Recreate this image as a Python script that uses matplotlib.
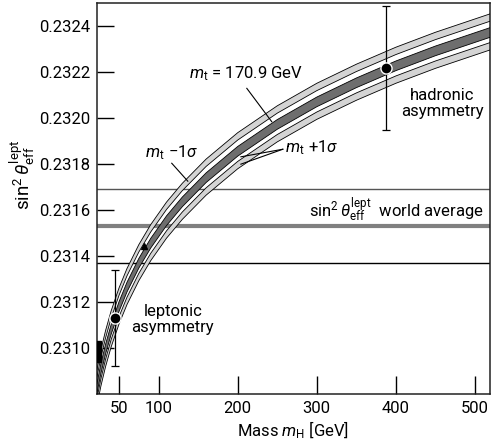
import matplotlib
matplotlib.use("Agg")
import matplotlib.pyplot as plt

plt.rcParams['font.family'] = ['Roboto', 'DejaVu Sans']
plt.rcParams['font.size'] = 12
plt.rcParams['mathtext.fontset'] = 'custom'
plt.rcParams['mathtext.rm'] = 'Roboto'
plt.rcParams['mathtext.it'] = 'Roboto:italic'
plt.rcParams['mathtext.bf'] = 'Roboto:bold'

# Higgs mass points (GeV)
mass = [22, 27, 33, 40, 50, 60, 75, 90, 110, 130, 160, 200, 250, 300, 350, 400, 450, 519]
# sin^2 theta_eff^lept for m_t = 170.9 GeV
sin2_central = [0.230824, 0.230910, 0.230996, 0.231081, 0.231181, 0.231265, 0.231369,
                0.231456, 0.231554, 0.231636, 0.231741, 0.231856, 0.231973, 0.232071,
                0.232154, 0.232228, 0.232293, 0.232373]
# m_t - 1 sigma (upper band)
sin2_minus = [0.230889, 0.230975, 0.231061, 0.231146, 0.231246, 0.231330, 0.231434,
              0.231521, 0.231619, 0.231701, 0.231806, 0.231921, 0.232038, 0.232136,
              0.232219, 0.232293, 0.232358, 0.232438]
# m_t + 1 sigma (lower band)
sin2_plus = [0.230764, 0.230850, 0.230936, 0.231021, 0.231121, 0.231205, 0.231309,
             0.231396, 0.231494, 0.231576, 0.231681, 0.231796, 0.231913, 0.232011,
             0.232094, 0.232168, 0.232233, 0.232313]

# world average
world_avg = 0.23153
world_err = 0.00016

# measurements
lep_mass, lep_val, lep_err = 45, 0.23113, 0.00021
had_mass, had_val, had_err = 388, 0.23222, 0.00027

# small marks on the left
arrow_mass, arrow_val = [81], [0.231445]
block_mass = [22, 27]
block_lo, block_hi = 0.23094, 0.23103

x_ticks = [50, 100, 200, 300, 400, 500]
y_ticks = [0.2310, 0.2312, 0.2314, 0.2316, 0.2318, 0.2320, 0.2322, 0.2324]

fig = plt.figure(figsize=(4.92, 4.47), dpi=100)
ax = fig.add_axes([0.197, 0.1186, 0.799, 0.874])

# world average band
ax.axhline(world_avg + world_err, color='#555555', lw=1.0, zorder=1)
ax.axhline(world_avg - world_err, color='black', lw=1.0, zorder=1)
ax.axhline(world_avg, color='#808080', lw=3.0, zorder=1)

# theory bands
for vals, col, h in [(sin2_minus, '#d4d4d4', 0.000016), (sin2_plus, '#d4d4d4', 0.000016),
                     (sin2_central, '#6e6e6e', 0.000021)]:
    lo = [v - h for v in vals]
    hi = [v + h for v in vals]
    ax.fill_between(mass, lo, hi, facecolor=col, edgecolor='none', zorder=2)
    ax.plot(mass, lo, color='black', lw=0.6, zorder=3)
    ax.plot(mass, hi, color='black', lw=0.6, zorder=3)

ax.plot(arrow_mass, arrow_val, marker='^', color='black', ms=4, ls='none', zorder=4)
ax.fill_between(block_mass, block_lo, block_hi, color='black', zorder=4)

# measurements
for m, v, e in [(lep_mass, lep_val, lep_err), (had_mass, had_val, had_err)]:
    ax.errorbar(m, v, yerr=e, fmt='none', ecolor='black', elinewidth=0.9,
                capsize=2.8, capthick=0.9, zorder=5)
    ax.plot(m, v, 'o', color='black', ms=8, mec='white', mew=1.0, zorder=6)

# labels
ax.text(210, 0.232195, r'$m_{\rm t}$ = 170.9 GeV', ha='center', va='center')
ax.plot([211.5, 243], [0.23213, 0.231985], color='black', lw=0.8)
ax.text(116.6, 0.231848, r'$m_{\rm t}\ {-}1\sigma$', ha='center', va='center')
ax.plot([116.6, 136.9], [0.231804, 0.231726], color='black', lw=0.8)
ax.text(260, 0.23187, r'$m_{\rm t}\ {+}1\sigma$', ha='left', va='center')
ax.plot([257, 204], [0.231865, 0.231832], color='black', lw=0.8)
ax.plot([257, 204], [0.231865, 0.231800], color='black', lw=0.8)
ax.text(459, 0.232065, 'hadronic\nasymmetry', ha='center', va='center', linespacing=1.1)
ax.text(118, 0.231123, 'leptonic\nasymmetry', ha='center', va='center', linespacing=1.1)
ax.text(511, 0.2316, r'$\sin^2\theta_{\rm eff}^{\rm lept}$  world average',
        ha='right', va='center')

ax.set_xlim(22, 519)
ax.set_ylim(0.2308, 0.2325)
ax.set_xticks(x_ticks)
ax.set_xticklabels([str(t) for t in x_ticks])
ax.set_yticks(y_ticks)
ax.set_yticklabels(['%.4f' % t for t in y_ticks])
ax.tick_params(axis='y', direction='in', length=12, width=1.0, pad=5)
ax.tick_params(axis='x', direction='in', length=13, width=1.0, pad=5)
for sp in ax.spines.values():
    sp.set_linewidth(1.1)
    sp.set_color('#222222')

ax.set_xlabel(r'Mass $m_{\rm H}$ [GeV]', labelpad=3)
ax.set_ylabel(r'$\sin^2\theta_{\rm eff}^{\rm lept}$', fontsize=13.5)
ax.yaxis.set_label_coords(-0.152, 0.56)

fig.savefig('out.png', dpi=100)
